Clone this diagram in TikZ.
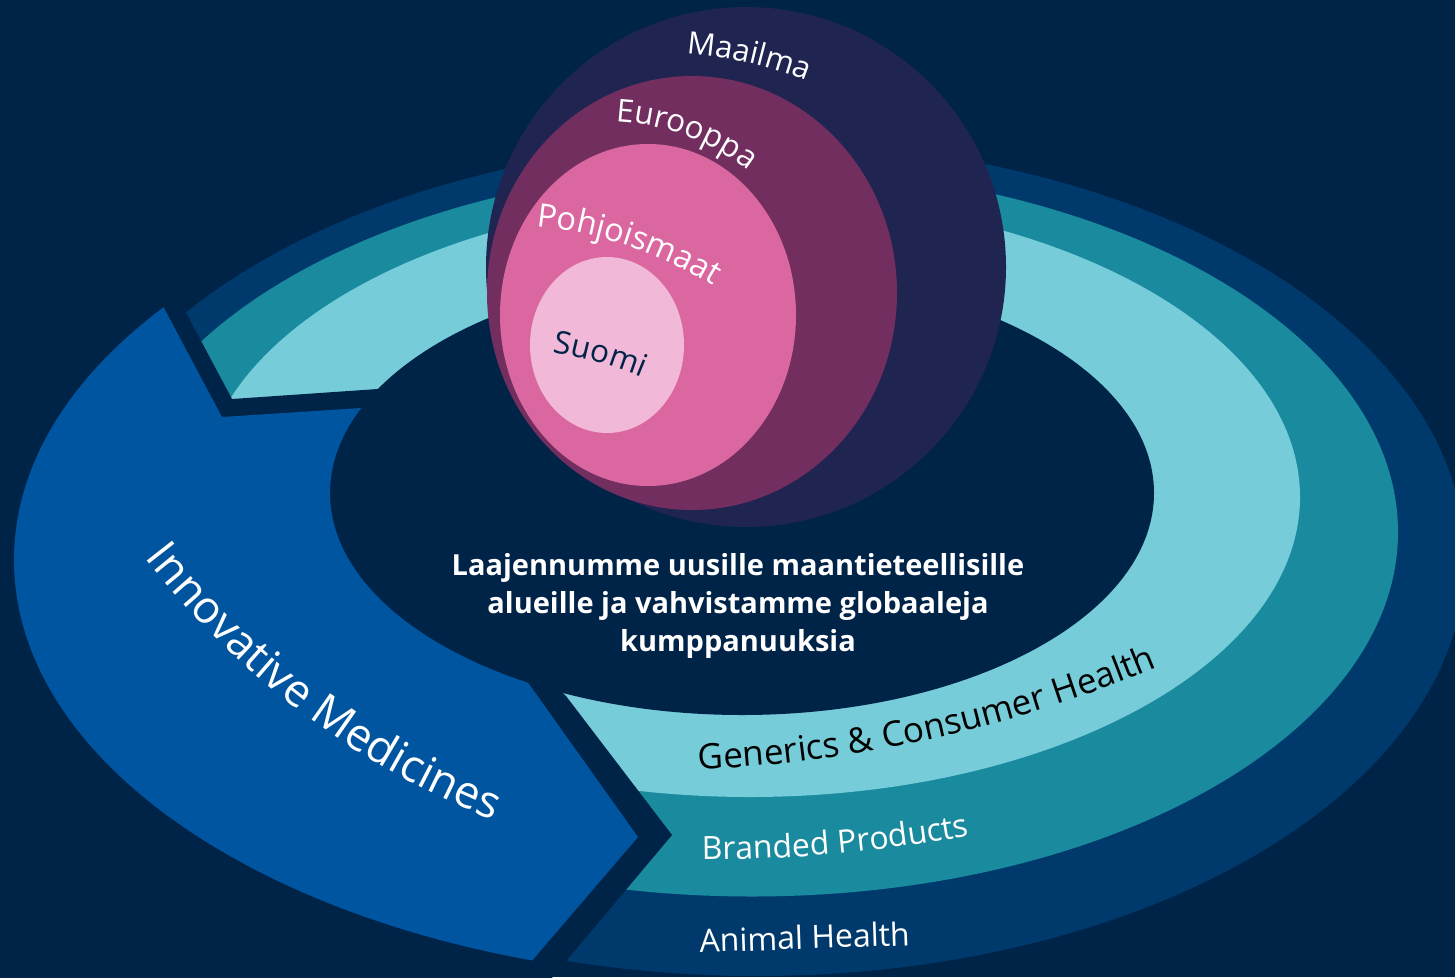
\documentclass[tikz,border=0pt]{standalone}
\usepackage{fontspec}
\setmainfont{Open Sans}
\usetikzlibrary{decorations.text}
\definecolor{bg}{HTML}{002348}
\definecolor{ringA}{HTML}{003A6C}
\definecolor{ringB}{HTML}{1A8A9F}
\definecolor{ringC}{HTML}{76CCD8}
\definecolor{imblue}{HTML}{0055A0}
\definecolor{world}{HTML}{1F2451}
\definecolor{europe}{HTML}{722E5F}
\definecolor{nordic}{HTML}{DA67A0}
\definecolor{finland}{HTML}{F2B8D7}
\tikzset{
  arclabel/.style={decorate, decoration={text along path, text align=center, text={#1}}},
}
\begin{document}
\begin{tikzpicture}[x=1pt,y=-1pt]
\useasboundingbox (0,0) rectangle (1455,977);
\fill[bg] (0,0) rectangle (1455,977);
% rings
\fill[ringA] (757,559) ellipse [x radius=708, y radius=417];
\fill[ringB] (752,532) ellipse [x radius=646, y radius=364.5];
\fill[ringC] (750,497) ellipse [x radius=550, y radius=300];
\fill[bg] (742,493) ellipse [x radius=412, y radius=222];
% gap left of the rings
\fill[bg] (151,247) -- (232,399) -- (378,389) -- (460,383) -- (510,640) -- (566,696)
  -- (672,835) -- (535,998) -- (-10,998) -- (-10,247) -- cycle;
% Innovative Medicines arrow
\begin{scope}
  \clip (148,278) -- (222,417) -- (361,408) -- (450,402) -- (487,625) -- (638,837)
    -- (530,963) -- (500,998) -- (-10,998) -- (-10,278) -- cycle;
  \fill[imblue, even odd rule] (757,560) ellipse [x radius=743, y radius=420]
    (742,493) ellipse [x radius=412, y radius=222];
\end{scope}
% circles
\fill[world] (746,267) circle [radius=260];
\fill[europe] (692,293) ellipse [x radius=205, y radius=217];
\fill[nordic] (648,315) ellipse [x radius=148, y radius=171];
\fill[finland] (607,345) ellipse [x radius=77, y radius=88];
% curved labels
\path[arclabel={|\fontsize{31}{36}\selectfont\color{white}|Maailma}]
  (654,472) ++(-97.1:420) arc[start angle=-97.1, end angle=-57.1, radius=420];
\path[arclabel={|\fontsize{31.5}{36}\selectfont\color{white}|Eurooppa}]
  (602.5,362) ++(-97.8:241) arc[start angle=-97.8, end angle=-41.8, radius=241];
\path[arclabel={|\fontsize{32.5}{38}\selectfont\color{white}|Pohjoismaat}]
  (494,645) ++(-91.4:421) arc[start angle=-91.4, end angle=-51.4, radius=421];
\path[arclabel={|\fontsize{31.5}{36}\selectfont\color{bg}|Suomi}]
  (488,747) ++(-89:400) arc[start angle=-89, end angle=-59, radius=400];
\path[arclabel={|\fontsize{35}{40}\selectfont\color{black}|Generics {\&} Consumer Health}]
  (640,-571) ++(92.4:1342) arc[start angle=92.4, end angle=62.4, radius=1342];
\path[arclabel={|\fontsize{32}{38}\selectfont\color{white}|Branded Products}]
  (698,-666) ++(93.8:1526) arc[start angle=93.8, end angle=75.8, radius=1526];
\path[arclabel={|\fontsize{45}{52}\selectfont\color{white}|Innovative Medicines}]
  (796,56) ++(149:822) arc[start angle=149, end angle=105, radius=822];
\node[text=white, font=\fontsize{32}{38}\selectfont, anchor=base, rotate=2] (animal) at (805,949) {Animal Health};
% centre statement
\node[text=white, font=\fontsize{29}{38}\selectfont\bfseries, align=center] (claim) at (738,606)
  {Laajennumme uusille maantieteellisille\\alueille ja vahvistamme globaaleja\\kumppanuuksia};
\end{tikzpicture}
\end{document}
